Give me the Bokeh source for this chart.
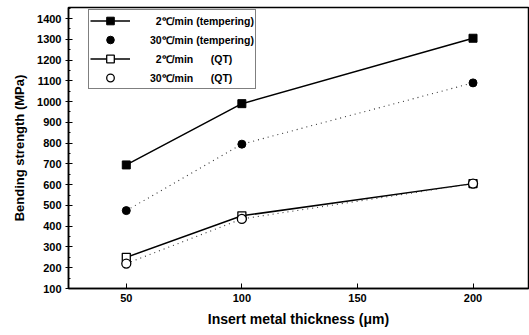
from bokeh.plotting import figure
from bokeh.models import Legend, LegendItem, Range1d, FixedTicker
from bokeh.embed import file_html
from bokeh.resources import INLINE

thickness = [50, 100, 200]
s_2_temp = [695, 990, 1305]
s_30_temp = [475, 795, 1090]
s_2_qt = [250, 450, 605]
s_30_qt = [220, 435, 605]

x_ticks = [50, 100, 150, 200]
y_ticks = list(range(100, 1500, 100))

FONT = "Liberation Sans"

p = figure(width=529, height=335, output_backend="svg", toolbar_location=None,
           x_range=Range1d(25, 224), y_range=Range1d(100, 1453),
           min_border_left=68, min_border_right=1, min_border_top=7, min_border_bottom=47)
p.grid.visible = False
p.outline_line_color = "black"
p.outline_line_width = 1.5
p.background_fill_color = "white"
p.border_fill_color = "white"

p.xaxis.ticker = FixedTicker(ticks=x_ticks)
p.yaxis.ticker = FixedTicker(ticks=y_ticks, minor_ticks=[v + 50 for v in y_ticks])
for ax in (p.xaxis[0], p.yaxis[0]):
    ax.axis_line_width = 1.5
    ax.major_tick_line_width = 1
    ax.major_label_text_font = FONT
    ax.major_label_text_font_style = "bold"
    ax.major_label_text_font_size = "11px"
    ax.major_label_text_color = "black"
    ax.axis_label_text_font = FONT
    ax.axis_label_text_font_style = "bold"
    ax.axis_label_text_color = "black"
p.xaxis.major_tick_in = 5
p.xaxis.major_tick_out = 0
p.xaxis.minor_tick_line_color = None
p.xaxis.major_label_standoff = 5
p.xaxis.axis_label = "Insert metal thickness (\u03bcm)"
p.xaxis.axis_label_text_font_size = "14px"
p.xaxis.axis_label_standoff = 6
p.yaxis.major_tick_in = 4
p.yaxis.major_tick_out = 3
p.yaxis.minor_tick_in = 2
p.yaxis.minor_tick_out = 0
p.yaxis.major_label_standoff = 4
p.yaxis.axis_label = "Bending strength (MPa)"
p.yaxis.axis_label_text_font_size = "13px"
p.yaxis.axis_label_standoff = 7

r1l = p.line(thickness, s_2_temp, line_color="black", line_width=1.5)
r1m = p.scatter(thickness, s_2_temp, marker="square", size=8, fill_color="black", line_color="black")
r2l = p.line(thickness, s_30_temp, line_color="#333333", line_width=1.1, line_dash="1 4")
r2m = p.scatter(thickness, s_30_temp, marker="circle", size=8, fill_color="black", line_color="black")
r3l = p.line(thickness, s_2_qt, line_color="black", line_width=1.5)
r3m = p.scatter(thickness, s_2_qt, marker="square", size=8, fill_color="white", line_color="black", line_width=1.3)
r4l = p.line(thickness, s_30_qt, line_color="#333333", line_width=1.1, line_dash="1 4")
r4m = p.scatter(thickness, s_30_qt, marker="circle", size=9, fill_color="white", line_color="black", line_width=1.3)

nb = "\u00a0"
legend = Legend(items=[
    LegendItem(label=nb * 2 + "2\u2103/min (tempering)", renderers=[r1l, r1m]),
    LegendItem(label="30\u2103/min (tempering)", renderers=[r2m]),
    LegendItem(label=nb * 2 + "2\u2103/min" + nb * 6 + "(QT)", renderers=[r3l, r3m]),
    LegendItem(label="30\u2103/min" + nb * 6 + "(QT)", renderers=[r4m]),
], location=(20, 199))
legend.padding = 1
legend.spacing = 0
legend.label_height = 19
legend.glyph_height = 19
legend.glyph_width = 40
legend.label_standoff = 20
legend.label_text_font = FONT
legend.label_text_font_style = "bold"
legend.label_text_font_size = "10.5px"
legend.label_text_color = "black"
legend.border_line_color = "black"
legend.border_line_width = 1
legend.background_fill_alpha = 1
legend.margin = 0
p.add_layout(legend)

open("out.html", "w").write(file_html(p, INLINE))
